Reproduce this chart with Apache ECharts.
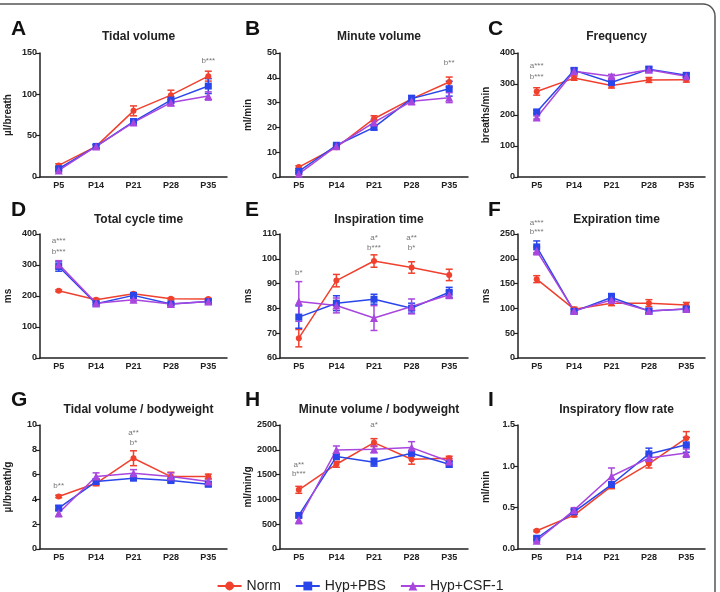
<!DOCTYPE html>
<html>
<head>
<meta charset="utf-8">
<script src="https://cdn.jsdelivr.net/npm/echarts@6/dist/echarts.min.js"></script>
<style>
  html, body { margin: 0; padding: 0; background: #fff; }
  #main { width: 720px; height: 592px; }
</style>
</head>
<body>
<div id="main"></div>
<script>
var days = ['P5', 'P14', 'P21', 'P28', 'P35'];
var groups = ['Norm', 'Hyp+PBS', 'Hyp+CSF-1'];

// A - tidal volume
var tvNorm = [14, 37, 80, 99, 122];
var tvNormErr = [2, 2, 6, 6, 6];
var tvPbs = [10, 37, 67, 93, 110];
var tvPbsErr = [2, 2, 3, 4, 9];
var tvCsf = [8, 37, 66, 90, 98];
var tvCsfErr = [2, 2, 3, 4, 5];

// B - minute volume
var mvNorm = [4, 12, 23.5, 31.5, 38.3];
var mvNormErr = [0.5, 0.6, 1.2, 1.2, 2];
var mvPbs = [2.3, 12.8, 20, 31.6, 35.6];
var mvPbsErr = [0.4, 0.5, 1, 1.3, 3];
var mvCsf = [1.3, 12.4, 22, 30.5, 32];
var mvCsfErr = [0.3, 0.5, 1.2, 1.3, 2];

// C - frequency
var frNorm = [276, 319, 295, 313, 314];
var frNormErr = [12, 7, 8, 8, 8];
var frPbs = [210, 344, 305, 348, 328];
var frPbsErr = [5, 8, 10, 8, 7];
var frCsf = [192, 341, 325, 346, 325];
var frCsfErr = [5, 8, 6, 6, 6];

// D - total cycle time
var ctNorm = [217, 188, 207, 191, 190];
var ctNormErr = [3, 4, 4, 3, 3];
var ctPbs = [295, 175, 202, 174, 182];
var ctPbsErr = [15, 4, 5, 4, 4];
var ctCsf = [302, 177, 188, 174, 182];
var ctCsfErr = [12, 4, 4, 4, 4];

// E - inspiration time
var itNorm = [68, 91.2, 99.1, 96.5, 93.5];
var itNormErr = [3.5, 2.5, 2.5, 2.3, 2.3];
var itPbs = [76.5, 82.1, 83.7, 80.1, 86.5];
var itPbsErr = [4.5, 3, 2, 2, 2];
var itCsf = [82.8, 81.2, 76.1, 80.8, 85.5];
var itCsfErr = [8, 3, 5, 3, 1.5];

// F - expiration time
var etNorm = [159, 98.5, 110.6, 110.6, 107];
var etNormErr = [7, 4, 5, 7, 5];
var etPbs = [224, 94, 122, 95, 99];
var etPbsErr = [12, 4, 8, 4, 4];
var etCsf = [216, 95, 117, 95, 99];
var etCsfErr = [8, 4, 5, 4, 4];

// G - tidal volume / bodyweight
var tvbNorm = [4.24, 5.3, 7.32, 5.84, 5.84];
var tvbNormErr = [0.1, 0.2, 0.6, 0.35, 0.2];
var tvbPbs = [3.3, 5.44, 5.71, 5.52, 5.23];
var tvbPbsErr = [0.2, 0.2, 0.15, 0.15, 0.2];
var tvbCsf = [2.9, 5.84, 6.1, 5.84, 5.44];
var tvbCsfErr = [0.3, 0.3, 0.3, 0.3, 0.25];

// H - minute volume / bodyweight
var mvbNorm = [1193, 1709, 2145, 1810, 1830];
var mvbNormErr = [70, 60, 80, 100, 40];
var mvbPbs = [677, 1863, 1750, 1930, 1709];
var mvbPbsErr = [40, 50, 80, 50, 60];
var mvbCsf = [590, 1997, 2010, 2044, 1763];
var mvbCsfErr = [80, 80, 70, 120, 60];

// I - inspiratory flow rate
var ifNorm = [0.22, 0.41, 0.76, 1.03, 1.34];
var ifNormErr = [0.01, 0.02, 0.03, 0.05, 0.08];
var ifPbs = [0.13, 0.45, 0.78, 1.15, 1.26];
var ifPbsErr = [0.02, 0.03, 0.03, 0.07, 0.09];
var ifCsf = [0.10, 0.47, 0.88, 1.10, 1.16];
var ifCsfErr = [0.02, 0.03, 0.1, 0.05, 0.05];

// significance labels: [day index, y value, text]
var annA = [[4, 141, 'b***']];
var annB = [[4, 46, 'b**']];
var annC = [[0, 358, 'a***'], [0, 322, 'b***']];
var annD = [[0, 377, 'a***'], [0, 342, 'b***']];
var annE = [[0, 94.3, 'b*'], [2, 108.4, 'a*'], [2, 104.4, 'b***'], [3, 108.4, 'a**'], [3, 104.4, 'b*']];
var annF = [[0, 272, 'a***'], [0, 254, 'b***']];
var annG = [[0, 5.08, 'b**'], [2, 9.35, 'a**'], [2, 8.55, 'b*']];
var annH = [[2, 2500, 'a*'], [0, 1694, 'a**'], [0, 1512, 'b***']];
var annI = [];

var panels = [
    {letter: 'A', title: 'Tidal volume', unit: 'µl/breath', min: 0, max: 150, step: 50, s: [tvNorm, tvPbs, tvCsf], e: [tvNormErr, tvPbsErr, tvCsfErr], ann: annA},
    {letter: 'B', title: 'Minute volume', unit: 'ml/min', min: 0, max: 50, step: 10, s: [mvNorm, mvPbs, mvCsf], e: [mvNormErr, mvPbsErr, mvCsfErr], ann: annB},
    {letter: 'C', title: 'Frequency', unit: 'breaths/min', min: 0, max: 400, step: 100, s: [frNorm, frPbs, frCsf], e: [frNormErr, frPbsErr, frCsfErr], ann: annC},
    {letter: 'D', title: 'Total cycle time', unit: 'ms', min: 0, max: 400, step: 100, s: [ctNorm, ctPbs, ctCsf], e: [ctNormErr, ctPbsErr, ctCsfErr], ann: annD},
    {letter: 'E', title: 'Inspiration time', unit: 'ms', min: 60, max: 110, step: 10, s: [itNorm, itPbs, itCsf], e: [itNormErr, itPbsErr, itCsfErr], ann: annE},
    {letter: 'F', title: 'Expiration time', unit: 'ms', min: 0, max: 250, step: 50, s: [etNorm, etPbs, etCsf], e: [etNormErr, etPbsErr, etCsfErr], ann: annF},
    {letter: 'G', title: 'Tidal volume / bodyweight', unit: 'µl/breath/g', min: 0, max: 10, step: 2, s: [tvbNorm, tvbPbs, tvbCsf], e: [tvbNormErr, tvbPbsErr, tvbCsfErr], ann: annG},
    {letter: 'H', title: 'Minute volume / bodyweight', unit: 'ml/min/g', min: 0, max: 2500, step: 500, s: [mvbNorm, mvbPbs, mvbCsf], e: [mvbNormErr, mvbPbsErr, mvbCsfErr], ann: annH},
    {letter: 'I', title: 'Inspiratory flow rate', unit: 'ml/min', min: 0, max: 1.5, step: 0.5, s: [ifNorm, ifPbs, ifCsf], e: [ifNormErr, ifPbsErr, ifCsfErr], ann: annI, dec: 1}
];

var colors = ['#f0402e', '#2a46ea', '#a846de'];
var symbols = ['circle', 'rect', 'triangle'];
var symSizes = [6, 7, 8];
var font = 'Arial, "Liberation Sans", sans-serif';

// layout in pixels
var colLeft = [40, 280, 518];
var colWidth = [187, 188, 187];
var rowTop = [53, 234, 425];
var rowHeight = 124;
var titleTop = [26, 209, 399];
var letterTop = [14, 195, 385];
var letterLeft = [6, 240, 483];

var grids = [], xAxes = [], yAxes = [], series = [], titles = [];

panels.forEach(function(p, k) {
    var r = Math.floor(k / 3), c = k % 3;
    grids.push({left: colLeft[c], top: rowTop[r], width: colWidth[c], height: rowHeight});
    xAxes.push({
        type: 'category', gridIndex: k, data: days, boundaryGap: true,
        axisLine: {lineStyle: {color: '#222', width: 1.5}},
        axisTick: {alignWithLabel: true, length: 4, lineStyle: {color: '#222', width: 1.2}},
        axisLabel: {color: '#222', fontSize: 9, fontWeight: 'bold', fontFamily: font, margin: 4}
    });
    yAxes.push({
        type: 'value', gridIndex: k, min: p.min, max: p.max, interval: p.step,
        name: p.unit, nameLocation: 'middle', nameGap: 27,
        nameTextStyle: {color: '#222', fontSize: 10, fontWeight: 'bold', fontFamily: font},
        axisLine: {show: true, lineStyle: {color: '#222', width: 1.5}},
        axisTick: {show: true, length: 4, lineStyle: {color: '#222', width: 1.2}},
        splitLine: {show: false},
        axisLabel: {color: '#222', fontSize: 9, fontWeight: 'bold', fontFamily: font, margin: 3,
            formatter: function(v) { return p.dec ? v.toFixed(p.dec) : v; }}
    });
    titles.push({text: p.title, left: colLeft[c] + colWidth[c] / 2, top: titleTop[r], textAlign: 'center',
        textStyle: {fontSize: 12, fontWeight: 'bold', color: '#222', fontFamily: font}});
    titles.push({text: p.letter, left: letterLeft[c], top: letterTop[r],
        textStyle: {fontSize: 21, fontWeight: 'bold', color: '#111', fontFamily: font}});

    for (var g = 0; g < 3; g++) {
        (function(g) {
            var vals = p.s[g], errs = p.e[g];
            series.push({
                type: 'custom', xAxisIndex: k, yAxisIndex: k, silent: true, z: 2,
                data: vals.map(function(v, i) { return [i, v, errs[i]]; }),
                renderItem: function(params, api) {
                    var i = api.value(0), v = api.value(1), e = api.value(2);
                    var hi = api.coord([i, v + e]);
                    var lo = api.coord([i, v - e]);
                    var w = 3.5;
                    var st = {stroke: colors[g], lineWidth: 1.5};
                    return {type: 'group', children: [
                        {type: 'line', shape: {x1: hi[0], y1: hi[1], x2: lo[0], y2: lo[1]}, style: st},
                        {type: 'line', shape: {x1: hi[0] - w, y1: hi[1], x2: hi[0] + w, y2: hi[1]}, style: st},
                        {type: 'line', shape: {x1: lo[0] - w, y1: lo[1], x2: lo[0] + w, y2: lo[1]}, style: st}
                    ]};
                }
            });
            series.push({
                name: groups[g], type: 'line', xAxisIndex: k, yAxisIndex: k, z: 3,
                data: vals, symbol: symbols[g], symbolSize: symSizes[g],
                itemStyle: {color: colors[g]},
                lineStyle: {color: colors[g], width: 1.5},
                animation: false
            });
        })(g);
    }

    if (p.ann.length) {
        (function(ann) {
            series.push({
                type: 'custom', xAxisIndex: k, yAxisIndex: k, silent: true, z: 4,
                data: ann.map(function(a) { return [a[0], a[1]]; }),
                renderItem: function(params, api) {
                    var pt = api.coord([api.value(0), api.value(1)]);
                    return {type: 'text', x: pt[0], y: pt[1], style: {
                        text: ann[params.dataIndex][2], fill: '#777', fontSize: 8, fontFamily: font,
                        align: 'center', verticalAlign: 'middle'}};
                }
            });
        })(p.ann);
    }
});

var myChart = echarts.init(document.getElementById('main'));
myChart.setOption({
    backgroundColor: '#fff',
    animation: false,
    title: titles,
    grid: grids,
    xAxis: xAxes,
    yAxis: yAxes,
    legend: {
        data: groups, top: 574, left: 'center',
        itemWidth: 24, itemHeight: 11, itemGap: 14,
        textStyle: {fontSize: 14, color: '#222', fontFamily: font}
    },
    graphic: [{
        type: 'rect', silent: true, z: -1,
        shape: {x: -12, y: 4, width: 727, height: 620, r: 12},
        style: {fill: 'none', stroke: '#555', lineWidth: 1.5}
    }],
    series: series
});
</script>
</body>
</html>
